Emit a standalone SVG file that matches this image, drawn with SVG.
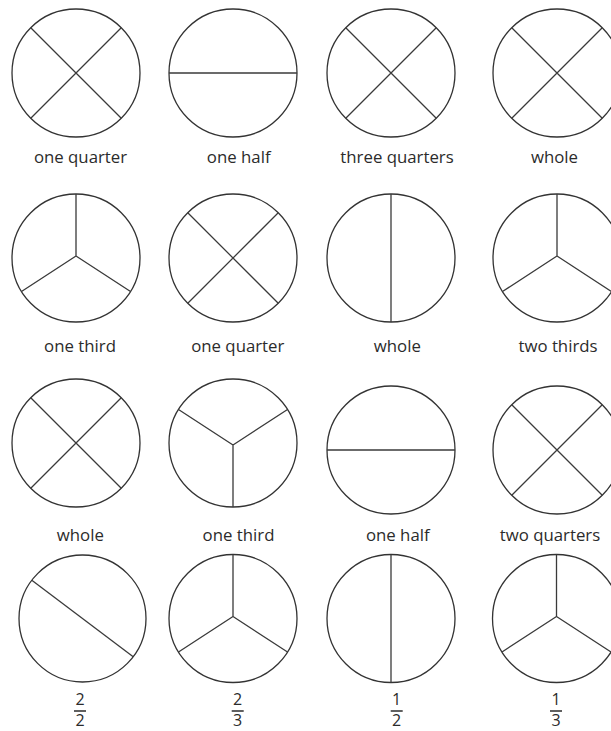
<svg xmlns="http://www.w3.org/2000/svg" xmlns:xlink="http://www.w3.org/1999/xlink" width="611" height="731" viewBox="0 0 611 731">
<style>
.c{fill:none;stroke:#333;stroke-width:1.3}
.l{stroke:#3a3a3a;stroke-width:1.3;fill:none}
.t{font-family:"Open Sans","Liberation Sans",sans-serif;font-size:16.8px;fill:#2b2b2b;text-anchor:middle}
.f{font-family:"Open Sans","Liberation Sans",sans-serif;font-size:16px;font-weight:500;fill:#2b2b2b;text-anchor:middle}
.b{stroke:#2b2b2b;stroke-width:1.5}
</style>
<defs>
<g id="pX"><circle class="c" r="64"/><path class="l" d="M-45.25,-45.25L45.25,45.25M45.25,-45.25L-45.25,45.25"/></g>
<g id="pH"><circle class="c" r="64"/><path class="l" d="M-64,0H64"/></g>
<g id="pV"><circle class="c" r="64"/><path class="l" d="M0,-64V64"/></g>
<g id="pY"><circle class="c" r="64"/><path class="l" d="M0,-64V-2M0,-2L-54.5,33.5M0,-2L54.5,33.5"/></g>
<g id="pYi"><circle class="c" r="64"/><path class="l" d="M0,64V2M0,2L-54.5,-33.5M0,2L54.5,-33.5"/></g>
<g id="pD"><circle class="c" r="63.5"/><path class="l" d="M-50.7,-38.2L50.7,38.2"/></g>
</defs>

<g id="n1"><use xlink:href="#pX" transform="translate(76,73)"/><text class="t" x="80.5" y="162.7">one quarter</text></g>
<g id="n2"><use xlink:href="#pH" transform="translate(233,73)"/><text class="t" x="238.7" y="162.7">one half</text></g>
<g id="n3"><use xlink:href="#pX" transform="translate(391,73)"/><text class="t" x="397" y="162.7">three quarters</text></g>
<g id="n4"><use xlink:href="#pX" transform="translate(557,73)"/><text class="t" x="554.5" y="162.7">whole</text></g>

<g id="n5"><use xlink:href="#pY" transform="translate(76,258)"/><text class="t" x="80" y="351.7">one third</text></g>
<g id="n6"><use xlink:href="#pX" transform="translate(233,258)"/><text class="t" x="237.8" y="351.7">one quarter</text></g>
<g id="n7"><use xlink:href="#pV" transform="translate(391,258)"/><text class="t" x="397.3" y="351.7">whole</text></g>
<g id="n8"><use xlink:href="#pY" transform="translate(557,258)"/><text class="t" x="558" y="351.7">two thirds</text></g>

<g id="n9"><use xlink:href="#pX" transform="translate(76,443)"/><text class="t" x="80.3" y="540.5">whole</text></g>
<g id="n10"><use xlink:href="#pYi" transform="translate(233,443)"/><text class="t" x="238.5" y="540.5">one third</text></g>
<g id="n11"><use xlink:href="#pH" transform="translate(391,450)"/><text class="t" x="397.8" y="540.5">one half</text></g>
<g id="n12"><use xlink:href="#pX" transform="translate(557,450)"/><text class="t" x="550" y="540.5">two quarters</text></g>

<g id="n13"><use xlink:href="#pD" transform="translate(82.5,618.5)"/><text class="f" x="80" y="705">2</text><line class="b" x1="74" y1="711" x2="86" y2="711"/><text class="f" x="80" y="726">2</text></g>
<g id="n14"><use xlink:href="#pY" transform="translate(233,618.5)"/><text class="f" x="237.7" y="705">2</text><line class="b" x1="231.7" y1="711" x2="243.7" y2="711"/><text class="f" x="237.7" y="726">3</text></g>
<g id="n15"><use xlink:href="#pV" transform="translate(391,618.5)"/><text class="f" x="396.7" y="705">1</text><line class="b" x1="390.7" y1="711" x2="402.7" y2="711"/><text class="f" x="396.7" y="726">2</text></g>
<g id="n16"><use xlink:href="#pY" transform="translate(556.5,618.5)"/><text class="f" x="556" y="705">1</text><line class="b" x1="550" y1="711" x2="562" y2="711"/><text class="f" x="556" y="726">3</text></g>
</svg>
